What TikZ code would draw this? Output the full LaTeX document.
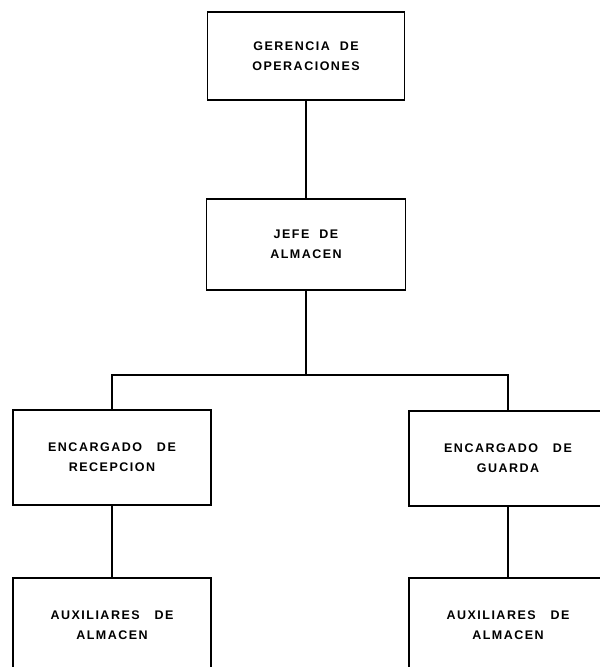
\documentclass[tikz,border=0pt]{standalone}
\usepackage{fontspec}
\newfontfamily\orgfont[LetterSpace=12]{Liberation Sans}
\begin{document}
\begin{tikzpicture}[x=1pt,y=-1pt,
  box/.style={draw, line width=1.4pt, minimum width=198pt, minimum height=92pt,
    inner sep=0pt, align=center, font=\orgfont\bfseries\fontsize{12.5}{20}\selectfont},
  link/.style={line width=2.2pt}]
\useasboundingbox[fill=white] (0,0) rectangle (600,667);
\node[box, minimum width=197pt, minimum height=88pt] (ger) at (306,56) {GERENCIA\ \ DE\\OPERACIONES};
\node[box, minimum width=199pt, minimum height=91pt] (jefe) at (306,244.5) {JEFE\ \ DE\\ALMACEN};
\node[box, minimum height=95pt] (encL) at (112,457.5) {ENCARGADO\ \ \ DE\\RECEPCION};
\node[box, minimum height=95pt] (encR) at (508,458.5) {ENCARGADO\ \ \ DE\\GUARDA};
\node[box, minimum height=95pt] (auxL) at (112,625.5) {AUXILIARES\ \ \ DE\\ALMACEN};
\node[box, minimum height=95pt] (auxR) at (508,625.5) {AUXILIARES\ \ \ DE\\ALMACEN};
\coordinate (bus) at (jefe.south |- 0,375);
\draw[link] (ger.south) -- (jefe.north);
\draw[link] (jefe.south) -- (bus);
\draw[link] (encL.north) |- (bus) -| (encR.north);
\draw[link] (encL.south) -- (auxL.north);
\draw[link] (encR.south) -- (auxR.north);
\end{tikzpicture}
\end{document}
